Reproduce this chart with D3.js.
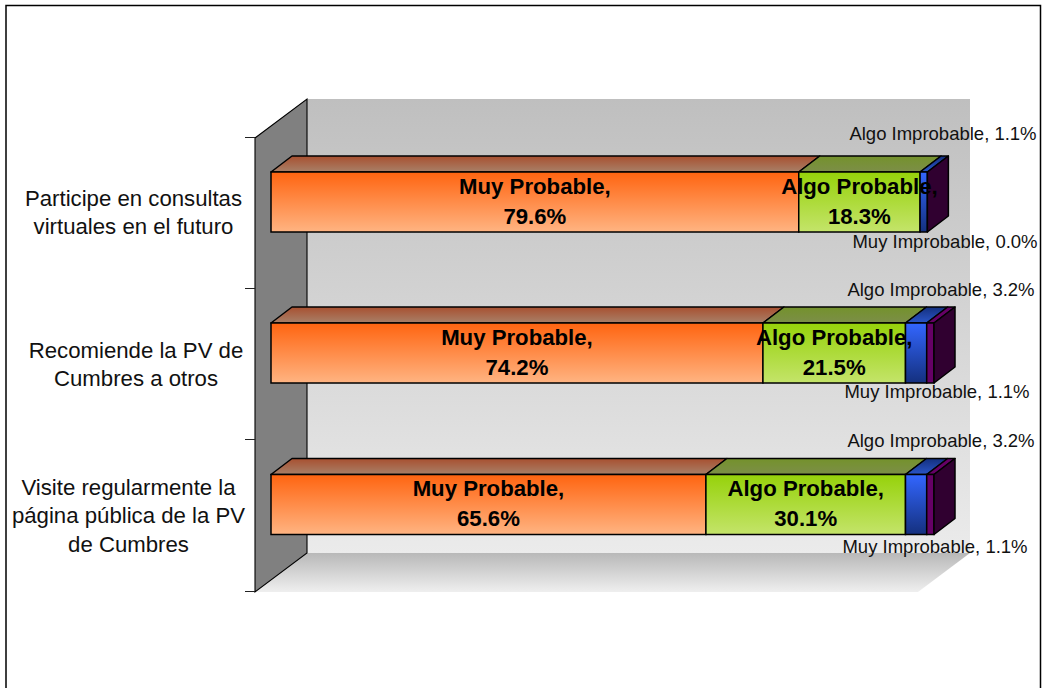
<!DOCTYPE html>
<html><head><meta charset="utf-8">
<script src="https://cdnjs.cloudflare.com/ajax/libs/d3/7.8.5/d3.min.js"></script>
<style>html,body{margin:0;padding:0;background:#fff}svg{display:block}text{font-family:"Liberation Sans",Arial,sans-serif}</style>
</head><body><svg id="c" width="1042" height="688"></svg>
<script>
const categories=[["Participe en consultas","virtuales en el futuro"],["Recomiende la PV de","Cumbres a otros"],["Visite regularmente la","página pública de la PV","de Cumbres"]];
const seriesNames=["Muy Probable","Algo Probable","Algo Improbable","Muy Improbable"];
const muyProbable=[79.6,74.2,65.6];
const algoProbable=[18.3,21.5,30.1];
const algoImprobable=[1.1,3.2,3.2];
const muyImprobable=[0.0,1.1,1.1];
const seriesValues=[muyProbable,algoProbable,algoImprobable,muyImprobable];
const colors=[
 {f:["#ff6410","#ffb482"],t:["#a85030","#a88068"],s:"#803000"},
 {f:["#96d20a","#c4e46a"],t:["#74922c","#7c8e48"],s:"#506000"},
 {f:["#3366ff","#14307e"],t:["#14307e","#2a55c8"],s:"#14307e"},
 {f:["#660066","#660066"],t:["#660066","#660066"],s:"#300030"}];
const dx=21,dy=16;
const svg=d3.select("#c");
const defs=svg.append("defs");
function grad(id,a,b){const g=defs.append("linearGradient").attr("id",id).attr("x1",0).attr("y1",0).attr("x2",0).attr("y2",1);
 g.append("stop").attr("offset",0).attr("stop-color",a);g.append("stop").attr("offset",1).attr("stop-color",b);}
grad("wall","#bfbfbf","#ebebeb");grad("floor","#b8b8b8","#efefef");
colors.forEach((c,i)=>{grad("f"+i,c.f[0],c.f[1]);grad("t"+i,c.t[0],c.t[1]);});
const poly=pts=>"M"+pts.map(p=>p.join(",")).join("L")+"Z";

svg.append("rect").attr("x",6).attr("y",5.5).attr("width",1034.5).attr("height",690).attr("fill","#fff").attr("stroke","#000").attr("stroke-width",1.5);

const x=d3.scaleLinear().domain([0,100]).range([255,918]);
const y=d3.scaleBand().domain(d3.range(categories.length)).range([137.5,591]);
const wallD=[52,39],frontTop=138,frontBottom=592;
svg.append("rect").attr("x",x(0)+wallD[0]).attr("y",frontTop-wallD[1]).attr("width",x(100)-x(0)).attr("height",frontBottom-frontTop).attr("fill","url(#wall)");
svg.append("path").attr("d",poly([[x(0),frontBottom],[x(100),frontBottom],[x(100)+wallD[0],frontBottom-wallD[1]],[x(0)+wallD[0],frontBottom-wallD[1]]])).attr("fill","url(#floor)");
svg.append("path").attr("d",poly([[x(0),frontTop],[x(0)+wallD[0],frontTop-wallD[1]],[x(0)+wallD[0],frontBottom-wallD[1]],[x(0),frontBottom]])).attr("fill","#808080").attr("stroke","#000").attr("stroke-width",1.1);
[...y.domain().map(d=>y(d)),y.range()[1]].forEach(t=>{svg.append("line").attr("x1",245).attr("x2",255).attr("y1",Math.floor(t)+.5).attr("y2",Math.floor(t)+.5).attr("stroke","#222").attr("stroke-width",1);});

const barTop=[172,323,474.5],barH=60;
const offset=16;
const catBase=[206,357.5,495],catCx=[133.5,136,128.5];
categories.forEach((cat,ci)=>{
  const top=barTop[ci],bot=top+barH;
  let cum=0;
  const segs=seriesValues.map((v,si)=>{const s={si,v:v[ci],a:cum,b:cum+v[ci]};cum+=v[ci];return s;});
  const X=p=>x(p)+offset;
  segs.forEach(s=>{ if(s.v<=0) return;
    const x0=X(s.a),x1=X(s.b);
    svg.append("path").attr("d",poly([[x0,top],[x1,top],[x1+dx,top-dy],[x0+dx,top-dy]])).attr("fill",`url(#t${s.si})`).attr("stroke","#000").attr("stroke-width",1.5).attr("stroke-linejoin","round");
    svg.append("rect").attr("x",x0).attr("y",top).attr("width",x1-x0).attr("height",barH).attr("fill",`url(#f${s.si})`).attr("stroke","#000").attr("stroke-width",1.5);
  });
  const last=segs.filter(s=>s.v>0).pop();
  const xe=X(last.b);
  svg.append("path").attr("d",poly([[xe,top],[xe+dx,top-dy],[xe+dx,bot-dy],[xe,bot]])).attr("fill",colors[3].s).attr("stroke","#000").attr("stroke-width",1.5).attr("stroke-linejoin","round");
  cat.forEach((l,i)=>svg.append("text").attr("x",catCx[ci]).attr("y",catBase[ci]+i*28.4).attr("text-anchor","middle").attr("font-size",22.2).attr("fill","#111").text(l));
  segs.slice(0,2).forEach(s=>{
    const lx=(X(s.a)+X(s.b))/2;
    svg.append("text").attr("x",lx).attr("y",top+21.5).attr("text-anchor","middle").attr("font-size",22.2).attr("font-weight","bold").attr("fill","#000").text(seriesNames[s.si]+",");
    svg.append("text").attr("x",lx).attr("y",top+51.5).attr("text-anchor","middle").attr("font-size",22.2).attr("font-weight","bold").attr("fill","#000").text(s.v.toFixed(1)+"%");
  });
});
const smallX=[[943,945],[941,937],[941,935]],smallY=[[140,248],[296,398],[447,553]];
categories.forEach((c,ci)=>{
  [[2,0],[3,1]].forEach(([si,k])=>{
    svg.append("text").attr("x",smallX[ci][k]).attr("y",smallY[ci][k]).attr("text-anchor","middle").attr("font-size",18.5).attr("fill","#111").text(seriesNames[si]+", "+seriesValues[si][ci].toFixed(1)+"%");
  });
});
</script></body></html>
